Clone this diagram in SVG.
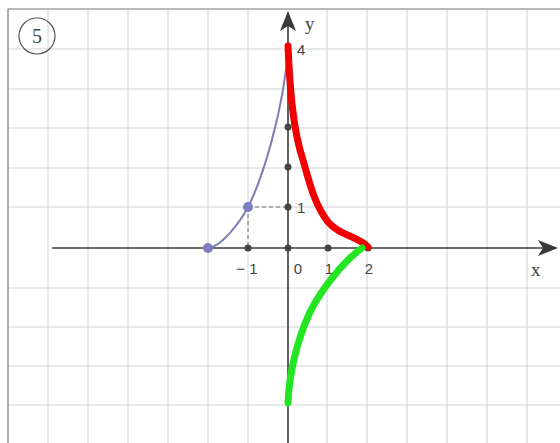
<svg xmlns="http://www.w3.org/2000/svg" width="560" height="443" viewBox="0 0 560 443">
<style>
.grid{stroke:#cdd3d6;stroke-width:1;fill:none}
.border{stroke:#777;stroke-width:1.2;fill:none}
.axis{stroke:#3a3a3a;stroke-width:1.6;fill:none}
.dash{stroke:#777;stroke-width:1;stroke-dasharray:4 3;fill:none}
.lbl{font-family:"Liberation Sans",Arial,sans-serif;font-size:15px;fill:#444}
.var{font-family:"Liberation Serif","Times New Roman",serif;font-size:19px;fill:#444}
.dot{fill:#444}
.bdot{fill:#7d7dc0}
.thick{fill:none;stroke-width:7;stroke-linejoin:round;stroke-linecap:round}
</style>
<defs>
<marker id="arr" viewBox="0 0 20 16" refX="18" refY="8" markerWidth="20" markerHeight="16" markerUnits="userSpaceOnUse" orient="auto">
<path d="M0,0 L20,8 L0,16 L5,8 Z" fill="#3a3a3a"/>
</marker>
</defs>
<rect width="560" height="443" fill="#ffffff"/>
<g id="grid">
<path class="grid" d="M48,9V443M88,9V443M128,9V443M168,9V443M208,9V443M248,9V443M327,9V443M367,9V443M407,9V443M447,9V443M487,9V443M527,9V443"/>
<path class="grid" d="M8,49H560M8,89H560M8,128H560M8,168H560M8,207H560M8,288H560M8,327H560M8,366H560M8,405H560"/>
<path class="border" d="M8,443V9H560"/>
</g>
<g id="badge">
<circle cx="37" cy="36" r="18" fill="none" stroke="#555" stroke-width="1.2"/>
<text x="37" y="43" text-anchor="middle" class="var" style="font-size:20px">5</text>
</g>
<g id="axes">
<line class="axis" x1="52" y1="248" x2="556" y2="248" marker-end="url(#arr)"/>
<line class="axis" x1="288" y1="443" x2="288" y2="13" marker-end="url(#arr)"/>
<text class="var" x="531" y="276">x</text>
<text class="var" x="305" y="30">y</text>
<text class="lbl" x="247" y="274" text-anchor="middle">− 1</text>
<text class="lbl" x="298" y="274" text-anchor="middle">0</text>
<text class="lbl" x="329" y="274" text-anchor="middle">1</text>
<text class="lbl" x="369" y="274" text-anchor="middle">2</text>
<text class="lbl" x="297" y="213">1</text>
<text class="lbl" x="297" y="55">4</text>
</g>
<g id="guides">
<path class="dash" d="M248,207H288M248,207V248"/>
</g>
<g id="blue-curve">
<path d="M208,248 C222,247 241,220.5 248,207 C262,180 284,110 288,48" fill="none" stroke="#7c7cb6" stroke-width="2"/>
</g>
<g id="axis-dots">
<circle class="dot" cx="288" cy="127" r="3.5"/>
<circle class="dot" cx="288" cy="167" r="3.5"/>
<circle class="dot" cx="288" cy="207" r="3.5"/>
<circle class="dot" cx="288" cy="248" r="3.5"/>
<circle class="dot" cx="248" cy="248" r="3.5"/>
<circle class="dot" cx="328" cy="248" r="3.5"/>
<circle class="dot" cx="368" cy="248" r="3.5"/>
</g>
<g id="red-curve">
<path class="thick" stroke="#f20000" d="M288,46 C290,90 293,130 303,160 C310,185 315,205 328,222 C340,236 358,236 368,247"/>
</g>
<g id="green-curve">
<path class="thick" stroke="#22e622" d="M288,403 C289,372 298,338 310,312 C322,288 345,260 362,248"/>
</g>
<g id="blue-dots">
<circle class="bdot" cx="208" cy="248" r="5"/>
<circle class="bdot" cx="248" cy="207" r="5"/>
</g>
</svg>
